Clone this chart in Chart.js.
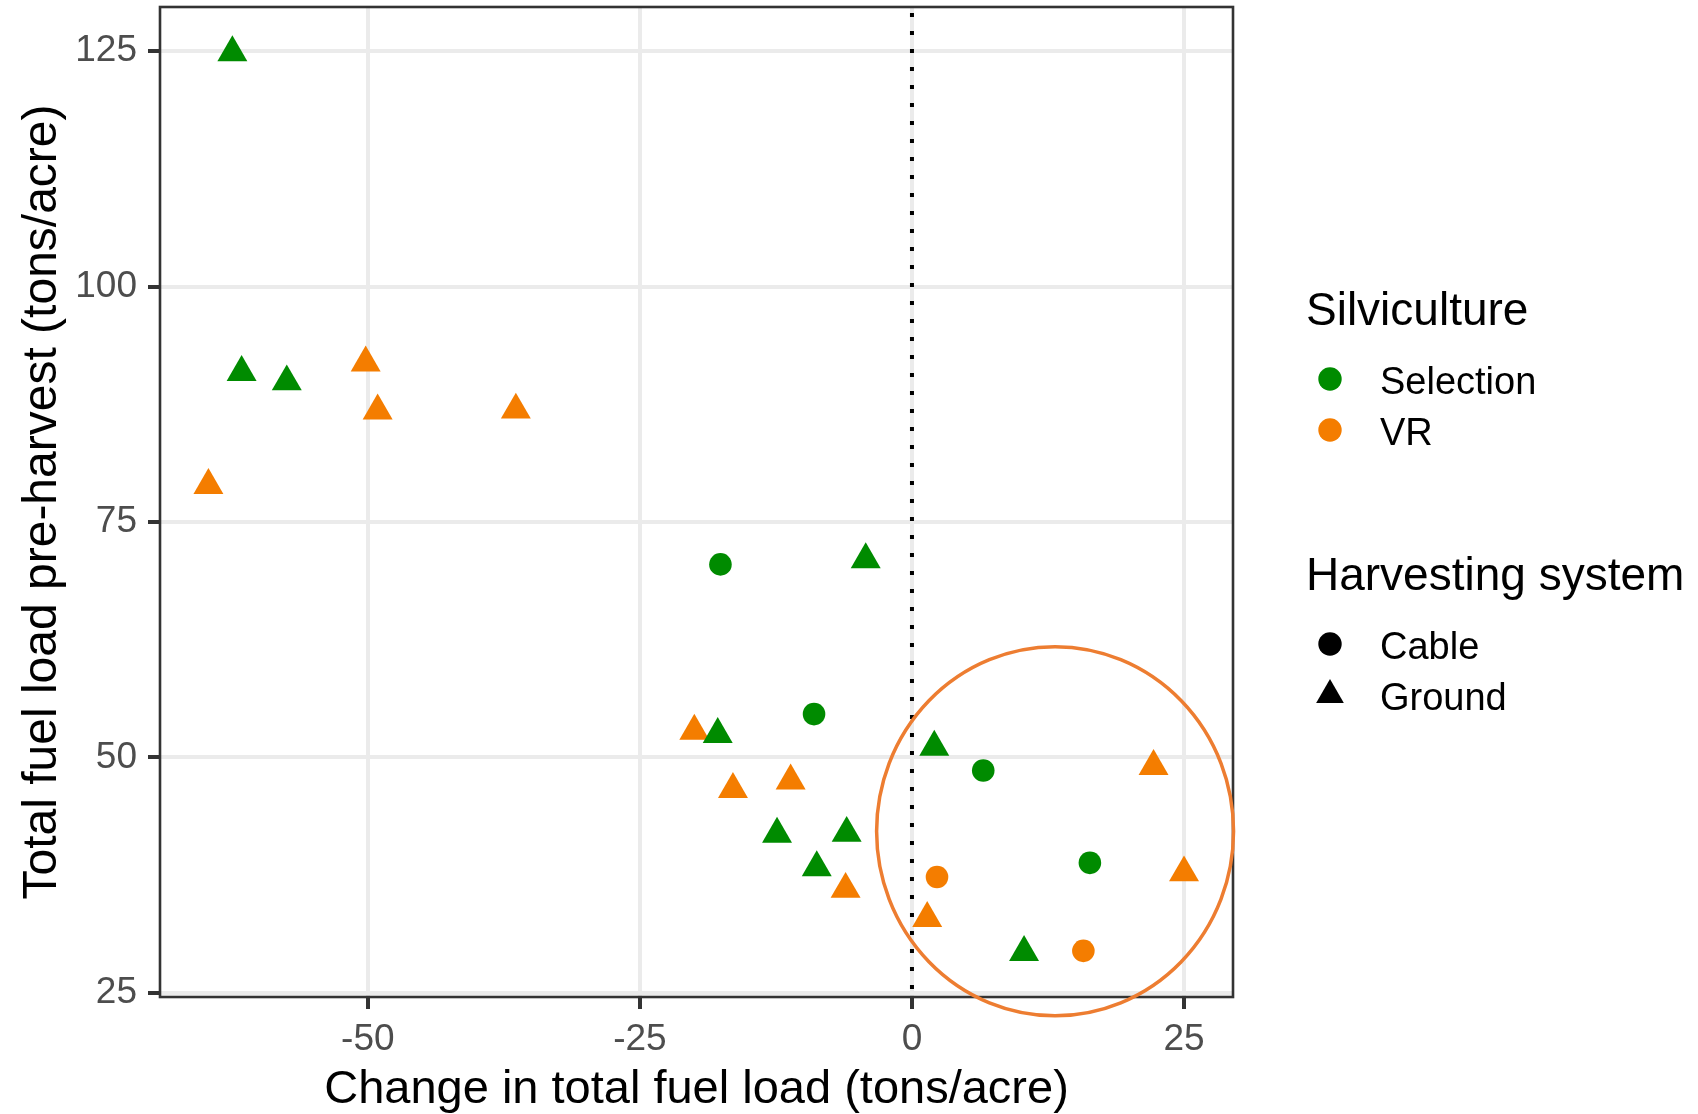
<!DOCTYPE html>
<html>
<head>
<meta charset="utf-8">
<title>Change in total fuel load</title>
<script src="https://cdn.jsdelivr.net/npm/chart.js@4.4.1/dist/chart.umd.min.js"></script>
<style>
  html, body { margin: 0; padding: 0; background: #fff; }
  #wrap { position: relative; width: 1698px; height: 1114px; font-family: "Liberation Sans", Arial, sans-serif; }
  #chart { position: absolute; left: 0; top: 0; }
  .lg { position: absolute; white-space: nowrap; line-height: 1; color: #000; }
  .lg-title { font-size: 46px; }
  .lg-label { font-size: 38px; }
  .lg-key { position: absolute; }
</style>
</head>
<body>
<div id="wrap">
  <canvas id="chart" width="1698" height="1114"></canvas>
  <div id="legend"></div>
</div>
<script>
// change in total fuel load (x) vs pre-harvest load (y), tons/acre
const selectionCableChange = [-17.6, -9.0, 6.55, 16.35];
const selectionCableLoad = [70.5, 54.6, 48.6, 38.8];

const selectionGroundChange = [-62.45, -61.6, -57.45, -4.25, -17.85, 2.05, -12.4, -6.0, -8.75, 10.3];
const selectionGroundLoad = [124.85, 90.9, 89.9, 71.0, 52.45, 51.1, 41.85, 41.95, 38.3, 29.3];

const vrCableChange = [2.3, 15.75];
const vrCableLoad = [37.3, 29.45];

const vrGroundChange = [-50.2, -49.1, -36.4, -64.65, -20.0, -16.45, -11.15, -6.1, 22.2, 25.0, 1.4];
const vrGroundLoad = [91.9, 86.8, 86.9, 78.9, 52.8, 46.6, 47.5, 36.0, 49.05, 37.75, 32.9];

const silvicultureNames = ['Selection', 'VR'];
const silvicultureColors = ['#008B00', '#F47D00'];
const harvestNames = ['Cable', 'Ground'];
const harvestShapes = ['circle', 'triangle'];

const xTickValues = [-50, -25, 0, 25];
const xTickLabels = ['-50', '-25', '0', '25'];
const yTickValues = [25, 50, 75, 100, 125];
const yTickLabels = ['25', '50', '75', '100', '125'];
const xLimits = [-69.1, 29.5];
const yLimits = [24.55, 129.7];

const xTitle = 'Change in total fuel load (tons/acre)';
const yTitle = 'Total fuel load pre-harvest (tons/acre)';

// vertical reference line and the highlighted group (centre, radii in data units)
const refLineX = 0;
const highlightCenter = [13.15, 42.15];
const highlightRadius = [16.4, 19.6];

const fontFamily = "'Liberation Sans', Arial, sans-serif";
const shapeRadius = { circle: 11.3, triangle: 17.3 };

function toPoints(xs, ys) {
  return xs.map((x, i) => ({ x: x, y: ys[i] }));
}

function series(label, xs, ys, colorIdx, shapeIdx) {
  const shape = harvestShapes[shapeIdx];
  return {
    label: label,
    data: toPoints(xs, ys),
    pointStyle: shape,
    pointRadius: shapeRadius[shape],
    backgroundColor: silvicultureColors[colorIdx],
    borderWidth: 0,
  };
}

const datasets = [
  series('Selection / Cable', selectionCableChange, selectionCableLoad, 0, 0),
  series('Selection / Ground', selectionGroundChange, selectionGroundLoad, 0, 1),
  series('VR / Cable', vrCableChange, vrCableLoad, 1, 0),
  series('VR / Ground', vrGroundChange, vrGroundLoad, 1, 1),
];

const panelDecor = {
  id: 'panelDecor',
  beforeDatasetsDraw(chart) {
    const { ctx, chartArea: a, scales: { x } } = chart;
    const px = x.getPixelForValue(refLineX);
    ctx.save();
    ctx.beginPath();
    ctx.rect(a.left, a.top, a.right - a.left, a.bottom - a.top);
    ctx.clip();
    ctx.strokeStyle = '#000';
    ctx.lineWidth = 4;
    ctx.setLineDash([4, 14]);
    ctx.lineDashOffset = 12;
    ctx.beginPath();
    ctx.moveTo(px, a.top);
    ctx.lineTo(px, a.bottom);
    ctx.stroke();
    ctx.restore();
  },
  afterDatasetsDraw(chart) {
    const { ctx, chartArea: a } = chart;
    ctx.save();
    ctx.strokeStyle = '#333333';
    ctx.lineWidth = 2.6;
    ctx.strokeRect(a.left, a.top, a.right - a.left, a.bottom - a.top);
    ctx.restore();
  },
  afterDraw(chart) {
    const { ctx, scales: { x, y } } = chart;
    const cx = x.getPixelForValue(highlightCenter[0]);
    const cy = y.getPixelForValue(highlightCenter[1]);
    const rx = Math.abs(x.getPixelForValue(highlightCenter[0] + highlightRadius[0]) - cx);
    const ry = Math.abs(y.getPixelForValue(highlightCenter[1] + highlightRadius[1]) - cy);
    ctx.save();
    ctx.strokeStyle = '#ED7D31';
    ctx.lineWidth = 3.5;
    ctx.beginPath();
    ctx.ellipse(cx, cy, rx, ry, 0, 0, Math.PI * 2);
    ctx.stroke();
    ctx.restore();
  }
};

const gridOpts = {
  color: '#EBEBEB',
  lineWidth: 4,
  drawTicks: true,
  tickColor: '#333333',
  tickWidth: 4,
  tickLength: 12,
};

// fixed axis band sizes, no extra room reserved for edge labels
function fixBand(prop, size) {
  return s => {
    s[prop] = size;
    s.paddingTop = 0;
    s.paddingBottom = 0;
    s.paddingLeft = 0;
    s.paddingRight = 0;
  };
}

new Chart(document.getElementById('chart'), {
  type: 'scatter',
  data: { datasets: datasets },
  options: {
    responsive: false,
    animation: false,
    events: [],
    layout: { autoPadding: false, padding: { top: 7, right: 465, left: 0, bottom: 0 } },
    plugins: {
      legend: { display: false },
      tooltip: { enabled: false },
    },
    scales: {
      x: {
        type: 'linear',
        position: 'bottom',
        min: xLimits[0],
        max: xLimits[1],
        afterBuildTicks: s => { s.ticks = xTickValues.map(v => ({ value: v })); },
        afterFit: fixBand('height', 117),
        ticks: {
          font: { size: 37, family: fontFamily },
          color: '#4D4D4D',
          padding: 9,
          maxRotation: 0,
          callback: (v, i) => xTickLabels[i],
        },
        grid: gridOpts,
        border: { display: false },
        title: {
          display: true,
          text: xTitle,
          color: '#000',
          font: { size: 47, family: fontFamily, lineHeight: 1 },
          padding: { top: 0, bottom: 0 },
        },
      },
      y: {
        type: 'linear',
        position: 'left',
        min: yLimits[0],
        max: yLimits[1],
        afterBuildTicks: s => { s.ticks = yTickValues.map(v => ({ value: v })); },
        afterFit: fixBand('width', 160),
        ticks: {
          font: { size: 37, family: fontFamily },
          color: '#4D4D4D',
          padding: 11,
          callback: (v, i) => yTickLabels[i],
        },
        grid: gridOpts,
        border: { display: false },
        title: {
          display: true,
          text: yTitle,
          color: '#000',
          font: { size: 48, family: fontFamily, lineHeight: 1 },
          padding: { top: 19, bottom: 0 },
        },
      },
    },
  },
  plugins: [panelDecor],
});

// two-part legend: colour for silviculture, shape for harvesting system
const legendEl = document.getElementById('legend');
const legendGroups = [
  { title: 'Silviculture', baseline: 325,
    items: silvicultureNames.map((n, i) => ({ label: n, color: silvicultureColors[i], shape: 'circle' })) },
  { title: 'Harvesting system', baseline: 590,
    items: harvestNames.map((n, i) => ({ label: n, color: '#000', shape: harvestShapes[i] })) },
];
const titleLeft = 1306, labelLeft = 1380, keyCenterX = 1330;
const ascent = 0.8465;

function addText(text, cls, size, left, baseline) {
  const el = document.createElement('div');
  el.className = 'lg ' + cls;
  el.textContent = text;
  el.style.left = left + 'px';
  el.style.top = (baseline - ascent * size) + 'px';
  legendEl.appendChild(el);
}

function addKey(shape, color, cx, cy) {
  const ns = 'http://www.w3.org/2000/svg';
  const svg = document.createElementNS(ns, 'svg');
  svg.setAttribute('width', 40);
  svg.setAttribute('height', 40);
  svg.setAttribute('class', 'lg-key');
  svg.style.left = (cx - 20) + 'px';
  svg.style.top = (cy - 20) + 'px';
  let mark;
  if (shape === 'circle') {
    mark = document.createElementNS(ns, 'circle');
    mark.setAttribute('cx', 20);
    mark.setAttribute('cy', 20);
    mark.setAttribute('r', 11.7);
  } else {
    const r = 16;
    const h = r * Math.sqrt(3) / 2;
    mark = document.createElementNS(ns, 'polygon');
    mark.setAttribute('points', `20,${20 - r} ${20 + h},${20 + r / 2} ${20 - h},${20 + r / 2}`);
  }
  mark.setAttribute('fill', color);
  svg.appendChild(mark);
  legendEl.appendChild(svg);
}

legendGroups.forEach(g => {
  addText(g.title, 'lg-title', 46, titleLeft, g.baseline);
  g.items.forEach((item, i) => {
    const base = g.baseline + 69 + i * 51;
    addKey(item.shape, item.color, keyCenterX, base - 15.3);
    addText(item.label, 'lg-label', 38, labelLeft, base);
  });
});
</script>
</body>
</html>
